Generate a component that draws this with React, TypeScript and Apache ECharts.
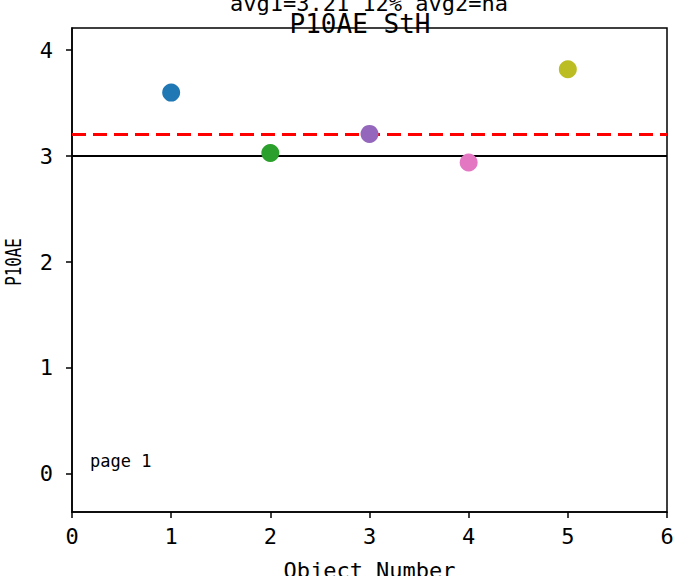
import React, { useEffect, useRef } from "react";
import * as echarts from "echarts";

const objectNumbers = [1, 2, 3, 4, 5];
const p10aeValues = [3.6, 3.03, 3.21, 2.94, 3.82];
const pointColors = ["#1f77b4", "#2ca02c", "#9467bd", "#e377c2", "#bcbd22"];
const referenceValue = 3;
const avg1Value = 3.21;
const xTicks = [0, 1, 2, 3, 4, 5, 6];
const yTicks = [0, 1, 2, 3, 4];
const titleMain = "P10AE StH";
const titleSub = "avg1=3.21 12% avg2=na";
const pageLabel = "page 1";
const xAxisName = "Object Number";
const yAxisName = "P10AE";

const FONT = "'DejaVu Sans Mono', monospace";

export default function App() {
  const ref = useRef<HTMLDivElement>(null);
  useEffect(() => {
    if (!ref.current) return;
    const chart = echarts.init(ref.current, null, { renderer: "svg" });
    const data = objectNumbers.map((x, i) => ({
      value: [x, p10aeValues[i]],
      itemStyle: { color: pointColors[i], opacity: 1 },
    }));
    chart.setOption({
      animation: false,
      textStyle: { fontFamily: FONT },
      grid: {
        left: 72,
        right: 8,
        top: 28,
        bottom: 64,
        show: true,
        borderColor: "#000",
        borderWidth: 1.5,
        backgroundColor: "#fff",
        outerBoundsMode: "none",
        containLabel: false,
      },
      xAxis: {
        type: "value",
        min: 0,
        max: 6,
        interval: 1,
        name: xAxisName,
        nameLocation: "middle",
        nameGap: 47,
        nameTextStyle: { fontSize: 22, color: "#000", fontFamily: FONT },
        axisLine: { show: true, onZero: false, lineStyle: { color: "#000", width: 1.5 } },
        axisTick: { show: true, length: 6, inside: false, lineStyle: { color: "#000", width: 1.5 } },
        axisLabel: {
          fontSize: 22,
          color: "#000",
          margin: 13,
          fontFamily: FONT,
          customValues: xTicks,
        },
        splitLine: { show: false },
      },
      yAxis: {
        type: "value",
        min: -0.36,
        max: 4.21,
        axisLine: { show: true, onZero: false, lineStyle: { color: "#000", width: 1.5 } },
        axisTick: { show: true, length: 6, inside: false, lineStyle: { color: "#000", width: 1.5 }, customValues: yTicks },
        axisLabel: {
          fontSize: 22,
          color: "#000",
          margin: 19,
          fontFamily: FONT,
          customValues: yTicks,
        },
        splitLine: { show: false },
      },
      series: [
        {
          type: "scatter",
          data,
          symbol: "circle",
          symbolSize: 18,
          z: 5,
          markLine: {
            silent: true,
            symbol: "none",
            label: { show: false },
            z: 3,
            data: [
              { yAxis: referenceValue, lineStyle: { color: "#000", width: 2, type: "solid", opacity: 1 } },
              { yAxis: avg1Value, lineStyle: { color: "#ff0000", width: 3, type: [14, 7], opacity: 1 } },
            ],
          },
        },
      ],
      graphic: [
        {
          type: "text",
          x: 369,
          y: 3,
          z: 10,
          style: {
            text: titleSub,
            fontSize: 22,
            fontFamily: FONT,
            fill: "#000",
            textAlign: "center",
            textVerticalAlign: "middle",
          },
        },
        {
          type: "text",
          x: 360,
          y: 24,
          z: 10,
          style: {
            text: titleMain,
            fontSize: 26,
            fontFamily: FONT,
            fill: "#000",
            textAlign: "center",
            textVerticalAlign: "middle",
          },
        },
        {
          type: "text",
          x: 14,
          y: 262,
          rotation: Math.PI / 2,
          scaleX: 0.72,
          z: 10,
          style: {
            text: yAxisName,
            fontSize: 22,
            fontFamily: FONT,
            fill: "#000",
            textAlign: "center",
            textVerticalAlign: "middle",
          },
        },
        {
          type: "text",
          x: 90,
          y: 461,
          z: 10,
          style: {
            text: pageLabel,
            fontSize: 17,
            fontFamily: FONT,
            fill: "#000",
            textAlign: "left",
            textVerticalAlign: "middle",
          },
        },
      ],
    });
    return () => chart.dispose();
  }, []);
  return (
    <div
      ref={ref}
      style={{ position: "fixed", left: 0, top: 0, width: 675, height: 576, background: "#fff" }}
    />
  );
}
